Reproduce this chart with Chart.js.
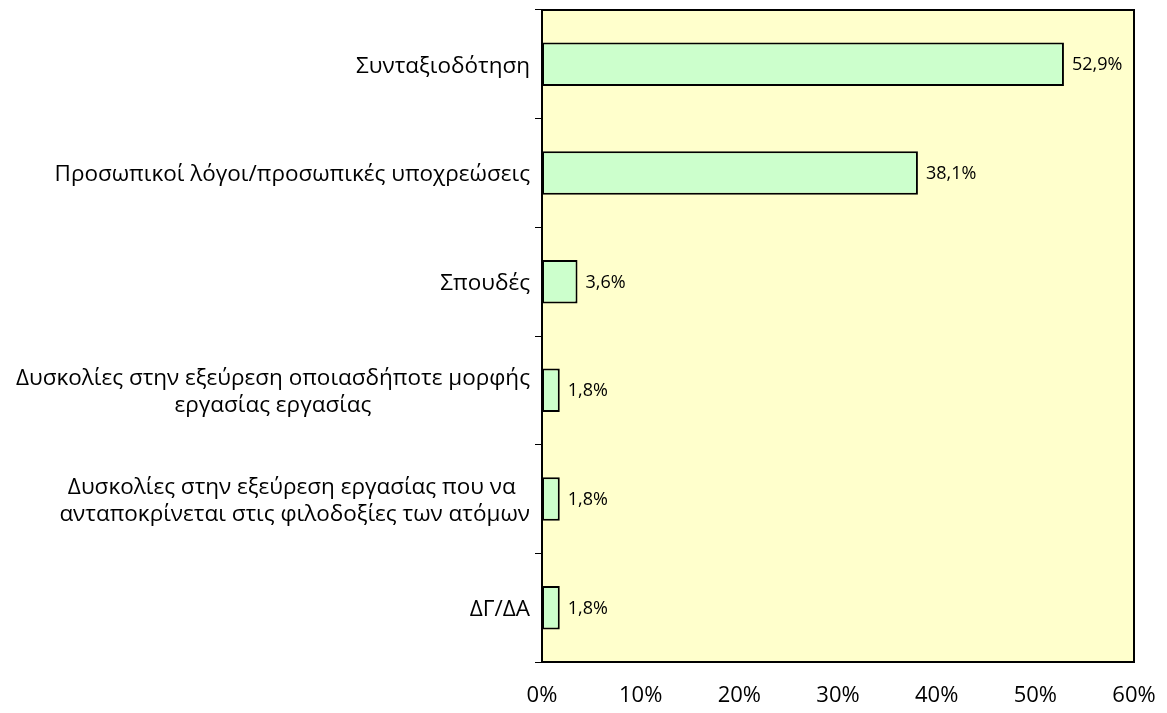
<!DOCTYPE html>
<html>
<head>
<meta charset="utf-8">
<script src="https://cdn.jsdelivr.net/npm/chart.js@4"></script>
<style>
html,body{margin:0;padding:0;background:#fff;}
#wrap{width:1167px;height:713px;position:relative;}
</style>
</head>
<body>
<div id="wrap"><canvas id="c"></canvas></div>
<script>
const categories = [
  ["Συνταξιοδότηση"],
  ["Προσωπικοί λόγοι/προσωπικές υποχρεώσεις"],
  ["Σπουδές"],
  ["Δυσκολίες στην εξεύρεση οποιασδήποτε μορφής", "εργασίας εργασίας"],
  ["Δυσκολίες στην εξεύρεση εργασίας που να ", "ανταποκρίνεται στις φιλοδοξίες των ατόμων"],
  ["ΔΓ/ΔΑ"]
];
const values = [52.9, 38.1, 3.6, 1.8, 1.8, 1.8];
const xTicks = [0, 10, 20, 30, 40, 50, 60];

const FONT = "'Open Sans', sans-serif";

const bgPlugin = {
  id: 'bg',
  beforeDraw(chart) {
    const {ctx, chartArea: a} = chart;
    ctx.save();
    ctx.fillStyle = '#FFFFCC';
    ctx.fillRect(a.left, a.top, a.right - a.left, a.bottom - a.top);
    ctx.restore();
  },
  afterDraw(chart) {
    const {ctx, chartArea: a} = chart;
    ctx.save();
    ctx.strokeStyle = '#000';
    ctx.lineWidth = 2;
    ctx.beginPath();
    ctx.moveTo(a.left, a.top);
    ctx.lineTo(a.right, a.top);
    ctx.lineTo(a.right, a.bottom);
    ctx.stroke();
    const ys = chart.scales.y;
    ctx.font = "22.5px " + FONT;
    ctx.fillStyle = '#000';
    ctx.textBaseline = 'middle';
    ctx.textAlign = 'center';
    const rightEdge = a.left - 12;
    const lh = 27;
    categories.forEach((lines, i) => {
      const cy = ys.getPixelForValue(i) + 2;
      const maxW = Math.max(...lines.map(l => ctx.measureText(l).width));
      const cx = rightEdge - maxW / 2;
      const y0 = cy - (lines.length - 1) * lh / 2;
      lines.forEach((l, j) => ctx.fillText(l, cx, y0 + j * lh));
    });
    ctx.restore();
  },
  afterDatasetsDraw(chart) {
    const {ctx} = chart;
    const meta = chart.getDatasetMeta(0);
    ctx.save();
    ctx.font = "18px " + FONT;
    ctx.fillStyle = '#000';
    ctx.textBaseline = 'middle';
    ctx.textAlign = 'left';
    meta.data.forEach((bar, i) => {
      ctx.fillText(values[i].toFixed(1).replace('.', ',') + '%', bar.x + 8, bar.y + 1);
    });
    ctx.restore();
  }
};

new Chart(document.getElementById('c'), {
  type: 'bar',
  data: {
    labels: categories.map(c => c.join(' ')),
    datasets: [{
      data: values,
      backgroundColor: '#CCFFCC',
      borderColor: '#000',
      borderWidth: 2,
      borderSkipped: false,
      categoryPercentage: 1,
      barPercentage: 0.4
    }]
  },
  options: {
    indexAxis: 'y',
    responsive: true,
    maintainAspectRatio: false,
    animation: false,
    layout: {padding: {top: 10, right: 33, left: 0, bottom: 0}},
    plugins: {legend: {display: false}, tooltip: {enabled: false}},
    scales: {
      x: {
        min: 0, max: 60,
        afterBuildTicks(scale) { scale.ticks = xTicks.map(v => ({value: v})); },
        ticks: {
          callback: v => v + '%',
          font: {size: 22, family: FONT},
          color: '#000',
          padding: 21
        },
        grid: {display: false, drawTicks: false},
        border: {display: true, color: '#000', width: 2},
        afterFit(scale) { scale.height = 51; scale.paddingLeft = 0; scale.paddingRight = 0; }
      },
      y: {
        ticks: {display: false},
        grid: {drawOnChartArea: false, offset: true, tickLength: 7, color: '#000', lineWidth: 1},
        border: {display: true, color: '#000', width: 2},
        afterFit(scale) { scale.width = 542; }
      }
    }
  },
  plugins: [bgPlugin]
});
</script>
</body>
</html>
